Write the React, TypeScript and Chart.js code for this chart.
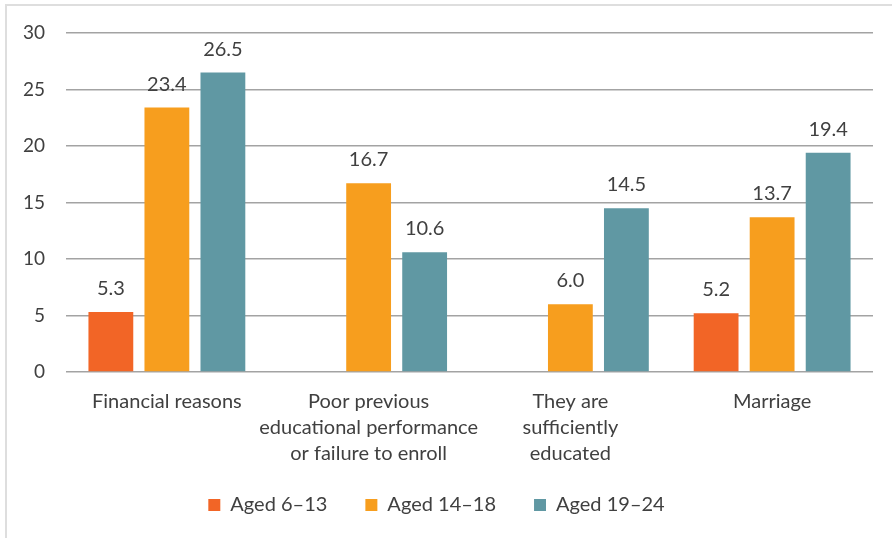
import React, { useEffect, useRef } from "react";
import { Chart, registerables } from "chart.js";

Chart.register(...registerables);

const categories: string[][] = [
  ["Financial reasons"],
  ["Poor previous", "educational performance", "or failure to enroll"],
  ["They are", "sufficiently", "educated"],
  ["Marriage"],
];
const seriesNames = ["Aged 6–13", "Aged 14–18", "Aged 19–24"];
const aged6to13: (number | null)[] = [5.3, null, null, 5.2];
const aged14to18: (number | null)[] = [23.4, 16.7, 6.0, 13.7];
const aged19to24: (number | null)[] = [26.5, 10.6, 14.5, 19.4];
const yTicks = [0, 5, 10, 15, 20, 25, 30];

const colors = ["#F26526", "#F79E1E", "#6098A3"];
const FONT = "Lato, 'Open Sans', sans-serif";
const TEXT = "#404040";

const valueLabels = {
  id: "valueLabels",
  afterDatasetsDraw(chart: any) {
    const ctx = chart.ctx;
    ctx.save();
    ctx.font = `20px ${FONT}`;
    ctx.fillStyle = TEXT;
    ctx.textAlign = "center";
    ctx.textBaseline = "alphabetic";
    chart.data.datasets.forEach((ds: any, i: number) => {
      const meta = chart.getDatasetMeta(i);
      meta.data.forEach((el: any, j: number) => {
        const v = ds.data[j];
        if (v === null || v === undefined) return;
        ctx.fillText(Number(v).toFixed(1), el.x, el.y - 17);
      });
    });
    ctx.restore();
  },
};

// legend item spacing uses labels.padding, which also adds to the legend's
// height; lift the legend box back up so the row sits where the reference has it
const legendLift = {
  id: "legendLift",
  afterLayout(chart: any) {
    const lg = chart.legend;
    if (lg) {
      lg.top -= 13;
      lg.bottom -= 13;
    }
  },
};

export default function App() {
  const ref = useRef<HTMLCanvasElement>(null);
  useEffect(() => {
    if (!ref.current) return;
    const chart = new Chart(ref.current, {
      type: "bar",
      data: {
        labels: categories,
        datasets: [aged6to13, aged14to18, aged19to24].map((d, i) => ({
          label: seriesNames[i],
          data: d,
          backgroundColor: colors[i],
          borderWidth: 0,
          barPercentage: 0.8,
          categoryPercentage: 0.833,
        })),
      },
      options: {
        animation: false,
        responsive: false,
        maintainAspectRatio: false,
        layout: { padding: { left: 0, right: 19, top: 33, bottom: 0 } },
        plugins: {
          tooltip: { enabled: false },
          legend: {
            position: "bottom",
            labels: {
              boxWidth: 12,
              boxHeight: 12,
              padding: 38,
              color: TEXT,
              font: { family: FONT, size: 20 },
            },
          },
        },
        scales: {
          x: {
            grid: { display: false, drawTicks: false },
            border: { display: false },
            ticks: {
              color: TEXT,
              padding: 16,
              maxRotation: 0,
              autoSkip: false,
              font: { family: FONT, size: 20, lineHeight: 1.32 },
            },
            afterFit: (s: any) => {
              s.height = 98;
            },
          },
          y: {
            min: 0,
            max: 30,
            afterBuildTicks: (s: any) => {
              s.ticks = yTicks.map((v) => ({ value: v }));
            },
            grid: { color: "#a3a3a3", lineWidth: 1.5, drawTicks: false },
            border: { display: false },
            ticks: {
              color: TEXT,
              padding: 21,
              font: { family: FONT, size: 19 },
            },
            afterFit: (s: any) => {
              s.width = 66;
            },
          },
        },
      },
      plugins: [valueLabels, legendLift],
    });
    return () => chart.destroy();
  }, []);

  return (
    <div
      style={{
        position: "fixed",
        left: 0,
        top: 0,
        width: 892,
        height: 538,
        background: "#fff",
        overflow: "hidden",
      }}
    >
      <div
        style={{
          position: "absolute",
          left: 5,
          top: 4,
          width: 900,
          height: 560,
          borderLeft: "2px solid #dedede",
          borderTop: "2px solid #dedede",
          boxSizing: "border-box",
        }}
      />
      <canvas
        ref={ref}
        width={892}
        height={538}
        style={{ position: "absolute", left: 0, top: 0, width: 892, height: 538 }}
      />
    </div>
  );
}
